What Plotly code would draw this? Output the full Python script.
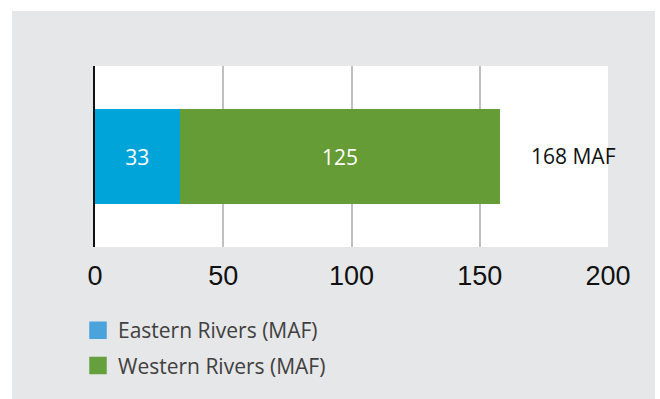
import plotly.graph_objects as go

# Indus basin flows, million acre-feet
category = ["Indus"]
eastern_rivers = [33]
western_rivers = [125]
total_flow = [168]
series_names = ["Eastern Rivers (MAF)", "Western Rivers (MAF)"]
x_ticks = [0, 50, 100, 150, 200]

W, H = 660, 399
ML, MR, MT, MB = 95, 52, 66, 152
PW, PH = W - ML - MR, H - MT - MB


def px_x(p):
    return (p - ML) / PW


def px_y(p):
    return (H - MB - p) / PH


panel_gray = "#e6e7e8"
bar_blue, bar_green = "#00a4d9", "#659c35"
key_blue, key_green = "#4ba3dc", "#66a03e"

fig = go.Figure()

fig.add_trace(go.Bar(
    y=category, x=eastern_rivers, orientation="h", name=series_names[0],
    marker=dict(color=bar_blue, line=dict(width=0)),
    texttemplate="%{x}", textposition="inside", insidetextanchor="middle",
    textfont=dict(family="Open Sans", size=21, color="white"),
    showlegend=False, hoverinfo="skip",
))
fig.add_trace(go.Bar(
    y=category, x=western_rivers, orientation="h", name=series_names[1],
    marker=dict(color=bar_green, line=dict(width=0)),
    texttemplate="%{x}", textposition="inside", insidetextanchor="middle",
    textfont=dict(family="Open Sans", size=21, color="white"),
    showlegend=False, hoverinfo="skip",
))

# legend keys with larger square swatches
for name, col, grp in [(series_names[0], key_blue, "e"), (series_names[1], key_green, "w")]:
    fig.add_trace(go.Scatter(
        x=[None], y=[None], mode="markers", name=name, legendgroup=grp,
        marker=dict(symbol="square", size=18, color=col, line=dict(width=1.5, color=col)),
    ))

# total label at the end of the stack
fig.add_annotation(
    x=total_flow[0], y=category[0], xref="x", yref="y",
    text=f"{total_flow[0]} MAF", showarrow=False, xanchor="left", xshift=3, yshift=1,
    font=dict(family="Open Sans", size=21, color="#111111"),
)

# white page border around the gray panel
border = dict(type="rect", xref="paper", yref="paper", fillcolor="white",
              line=dict(width=0), layer="below")
fig.add_shape(x0=px_x(-20), x1=px_x(12), y0=px_y(H + 20), y1=px_y(-20), **border)
fig.add_shape(x0=px_x(655), x1=px_x(W + 20), y0=px_y(H + 20), y1=px_y(-20), **border)
fig.add_shape(x0=px_x(-20), x1=px_x(W + 20), y0=px_y(11), y1=px_y(-20), **border)

fig.update_layout(
    width=W, height=H,
    margin=dict(l=ML, r=MR, t=MT, b=MB, pad=0),
    paper_bgcolor=panel_gray, plot_bgcolor="white",
    barmode="stack", bargap=0.48,
    legend=dict(
        x=px_x(78), y=px_y(310), xanchor="left", yanchor="top",
        orientation="v", tracegroupgap=5, bgcolor="rgba(0,0,0,0)",
        font=dict(family="Open Sans", size=21, color="#404040"),
        itemclick=False, itemdoubleclick=False,
    ),
    xaxis=dict(
        range=[0, 200], tickvals=x_ticks, ticktext=[str(v) for v in x_ticks],
        showgrid=True, gridcolor="#c0c0c0", gridwidth=2,
        zeroline=False, showline=False, ticks="",
        tickfont=dict(family="Liberation Sans", size=27, color="#111111"),
        ticklabelstandoff=10, fixedrange=True,
    ),
    yaxis=dict(
        showticklabels=False, showgrid=False, zeroline=False,
        showline=True, linecolor="#111111", linewidth=2, ticks="",
        fixedrange=True,
    ),
)

fig.write_html("out.html")
